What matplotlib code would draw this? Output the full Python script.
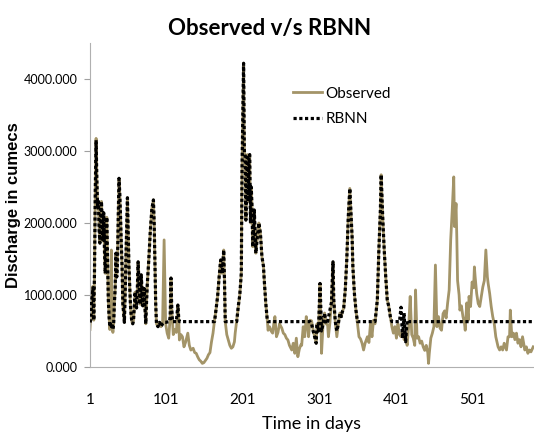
import matplotlib
matplotlib.use('Agg')
import matplotlib.pyplot as plt

# observed discharge (day, cumecs)
obs_days = [1, 2, 3, 5, 6, 7, 8, 9, 10, 11, 12, 13, 14, 15, 16, 17, 18, 19, 20,
            21, 22, 23, 24, 25, 26, 27, 28, 29, 30, 31, 32, 33, 34, 35, 36, 37, 38,
            39, 40, 41, 42, 43, 44, 45, 46, 47, 48, 49, 50, 51, 52, 53, 54, 55, 56,
            57, 58, 59, 60, 61, 62, 63, 64, 65, 66, 67, 68, 69, 70, 71, 72, 73, 74,
            75, 76, 78, 80, 82, 84, 85, 86, 87, 88, 90, 92, 94, 96, 98, 100,
            102, 104, 106, 107, 108, 110, 112, 114, 116, 117, 118, 120, 122, 124,
            126, 129, 131, 133, 136, 138, 140, 142, 144, 146, 148, 150, 152, 154,
            156, 158, 160, 162, 164, 166, 168, 170, 172, 174, 176, 177, 178, 180,
            182, 184, 186, 188, 190, 191, 193, 195, 197, 199, 200, 202, 203, 204,
            205, 206, 207, 208, 209, 210, 211, 212, 213, 214, 216, 218, 220, 222,
            224, 226, 228, 229, 231, 233, 234, 236, 238, 240, 242, 243, 245, 247,
            249, 252, 254, 256, 258, 260, 262, 265, 267, 269, 271, 273, 275, 277,
            278, 280, 282, 284, 286, 287, 289, 291, 293, 295, 297, 298, 300, 302,
            304, 306, 308, 310, 312, 313, 315, 317, 319, 320, 322, 324, 326, 328,
            330, 331, 333, 335, 337, 339, 341, 343, 344, 345, 347, 349, 351, 353,
            355, 357, 359, 361, 364, 366, 368, 370, 372, 374, 377, 379, 381, 382,
            384, 386, 388, 390, 392, 394, 396, 398, 400, 402, 404, 406, 408, 410,
            412, 414, 416, 418, 420, 422, 424, 426, 427, 429, 431, 433, 435, 437,
            439, 441, 443, 444, 445, 447, 449, 451, 453, 455, 457, 459, 461, 463,
            465, 467, 469, 471, 473, 475, 477, 478, 480, 481, 482, 484, 485, 487,
            489, 491, 492, 494, 496, 497, 499, 501, 503, 504, 505, 507, 509, 511,
            513, 515, 517, 519, 521, 522, 524, 526, 528, 530, 532, 535, 537, 539,
            541, 543, 546, 548, 550, 551, 553, 555, 557, 559, 561, 563, 565, 567,
            570, 572, 574, 576, 578, 581]
observed = [520, 700, 1100, 1120, 650, 1400, 2500, 3175, 2600, 2200, 2300, 1900, 1720,
            2100, 2300, 2000, 1750, 2140, 1600, 1300, 1800, 2080, 1500, 930, 700, 520,
            900, 1625, 600, 480, 610, 900, 1100, 1580, 1250, 1450, 2100, 2620, 2400,
            2080, 1700, 1390, 880, 750, 620, 1000, 1500, 1900, 2350, 1900, 1390, 1100,
            850, 700, 620, 600, 650, 850, 1040, 900, 820, 1100, 1460, 1200, 920, 870,
            1280, 1100, 850, 1000, 1090, 820, 600, 900, 1150, 1500, 1900, 2200, 2320,
            2000, 1400, 880, 600, 560, 620, 560, 600, 1765, 600,
            470, 400, 700, 1235, 800, 450, 520, 480, 860, 700, 375, 450, 420, 280,
            340, 470, 300, 235, 260, 200, 190, 140, 100, 80, 50, 60, 90, 120,
            170, 200, 350, 470, 650, 800, 980, 1250, 1486, 1300, 1625, 1200, 630, 450,
            375, 300, 260, 280, 350, 470, 650, 840, 1000, 1300, 2780, 4218, 3000, 2920,
            2040, 2600, 2950, 2300, 2900, 2950, 2000, 2500, 2230, 1670, 2180, 1580, 1800, 2000,
            1860, 1530, 1400, 1210, 890, 650, 510, 560, 500, 470, 640, 700, 420, 480,
            600, 540, 470, 450, 400, 375, 300, 236, 330, 190, 400, 143, 250, 310,
            300, 560, 420, 700, 560, 420, 650, 640, 510, 420, 330, 600, 500, 1160,
            190, 600, 750, 600, 580, 420, 620, 900, 1460, 930, 620, 420, 600, 750,
            700, 760, 820, 1070, 1486, 2090, 2480, 2040, 1800, 1390, 1020, 790, 600, 420,
            390, 330, 236, 330, 420, 340, 600, 420, 650, 600, 930, 1625, 2180, 2670,
            2090, 1625, 1250, 930, 840, 700, 560, 470, 560, 400, 600, 450, 420, 500,
            380, 450, 300, 560, 980, 450, 400, 300, 1070, 400, 420, 330, 360, 280,
            230, 300, 200, 50, 190, 400, 470, 560, 1416, 560, 700, 540, 510, 740,
            780, 680, 890, 1070, 1765, 2180, 2640, 1950, 2270, 1800, 1200, 1000, 790, 850,
            700, 610, 510, 890, 650, 980, 840, 1180, 1100, 1390, 1250, 1020, 880, 840,
            980, 1110, 1200, 1625, 1250, 1160, 1020, 840, 700, 600, 420, 280, 236, 280,
            236, 330, 236, 420, 420, 790, 420, 470, 380, 470, 330, 380, 280, 420,
            236, 280, 190, 236, 210, 280]

# RBNN model output (day, cumecs)
rbnn_days = [1, 2, 3, 5, 6, 7, 8, 9, 10, 11, 12, 13, 14, 15, 16, 17, 18, 19, 20,
             21, 22, 23, 24, 25, 26, 27, 28, 29, 30, 31, 32, 33, 34, 35, 36, 37, 38,
             39, 40, 41, 42, 43, 44, 45, 46, 47, 48, 49, 50, 51, 52, 53, 54, 55, 56,
             57, 58, 59, 60, 61, 62, 63, 64, 65, 66, 67, 68, 69, 70, 71, 72, 73, 74,
             75, 76, 78, 80, 82, 84, 85, 86, 87, 88, 90, 92, 94, 96, 98, 100,
             105, 106, 107, 108, 109, 114, 116, 117, 118, 164, 166, 168, 170, 172,
             174, 176, 177, 178, 193, 195, 197, 199, 200, 202, 203, 204, 205, 206,
             207, 208, 209, 210, 211, 212, 213, 214, 216, 218, 220, 222, 224, 226,
             228, 229, 231, 233, 234, 289, 291, 293, 295, 297, 298, 300, 302, 304,
             306, 308, 310, 312, 317, 319, 320, 322, 324, 326, 328, 330, 331, 333,
             335, 337, 339, 341, 343, 344, 345, 347, 349, 351, 374, 377, 379, 381,
             382, 384, 386, 388, 390, 392, 394, 396, 406, 408, 410, 412, 414, 416,
             418, 582]
rbnn = [620, 650, 900, 1100, 650, 1400, 2500, 3150, 2600, 2200, 2300, 1900, 1720,
        2100, 2300, 2000, 1750, 2140, 1600, 1300, 1800, 2080, 1500, 930, 700, 560,
        620, 560, 600, 520, 610, 900, 1100, 1580, 1250, 1450, 2100, 2620, 2400,
        2080, 1700, 1390, 880, 750, 620, 1000, 1500, 1900, 2350, 1900, 1390, 1100,
        850, 700, 620, 600, 650, 850, 1040, 900, 820, 1100, 1460, 1200, 920, 870,
        1280, 1100, 850, 1000, 1090, 820, 600, 900, 1150, 1500, 1900, 2200, 2320,
        2000, 1400, 880, 600, 560, 620, 560, 600, 620, 620,
        630, 700, 1235, 800, 630, 630, 860, 700, 630, 630, 800, 980, 1250, 1486,
        1300, 1625, 1200, 630, 630, 840, 1000, 1300, 2780, 4218, 3000, 2920, 2040, 2600,
        2950, 2300, 2900, 2950, 2000, 2500, 2230, 1670, 2180, 1580, 1800, 2000, 1860, 1530,
        1400, 1210, 890, 650, 630, 630, 600, 500, 420, 330, 600, 500, 1160, 500,
        600, 750, 600, 630, 900, 1460, 930, 630, 500, 600, 750, 700, 760, 820,
        1070, 1486, 2090, 2480, 2040, 1800, 1390, 1020, 790, 630, 630, 930, 1625, 2180,
        2670, 2090, 1625, 1250, 930, 840, 700, 630, 630, 830, 400, 750, 350, 650,
        630, 630]

x_ticks = [1, 101, 201, 301, 401, 501]
y_ticks = [0, 1000, 2000, 3000, 4000]

fig = plt.figure(figsize=(5.34, 4.34), dpi=100)
ax = fig.add_axes([0.1685, 0.1544, 0.8315, 0.7466])

ax.plot(obs_days, observed, color='#a39468', lw=2, label='Observed', zorder=2)
ax.plot(rbnn_days, rbnn, color='black', lw=2.3, linestyle=(0, (1, 0.8)),
        label='RBNN', zorder=3)

ax.set_xlim(1, 582)
ax.set_ylim(0, 4500)
ax.set_xticks(x_ticks)
ax.set_xticklabels([str(t) for t in x_ticks], fontsize=11, family='Lato')
ax.set_yticks(y_ticks)
ax.set_yticklabels(['%.3f' % t for t in y_ticks], fontsize=9, family='Lato')
ax.tick_params(axis='x', length=0, pad=19)
ax.tick_params(axis='y', length=4, color='#a0a0a0', pad=5)

for s in ['top', 'right']:
    ax.spines[s].set_visible(False)
ax.spines['left'].set_color('#b0b0b0')
ax.spines['bottom'].set_color('#b0b0b0')

ax.set_xlabel('Time in days', fontsize=13, family='Lato', labelpad=6)
ax.set_ylabel('Discharge in cumecs', fontsize=12, fontweight='bold',
              family='Liberation Sans')
ax.yaxis.set_label_coords(-0.155, 0.5)
fig.text(0.505, 0.935, 'Observed v/s RBNN', ha='center', va='center',
         fontsize=16, fontweight='bold', family='Lato')

fig.legend(loc='upper left', bbox_to_anchor=(0.535, 0.818), frameon=False,
           prop={'family': 'Lato', 'size': 11}, handlelength=1.9,
           handletextpad=0.2, labelspacing=0.75, borderpad=0)

fig.savefig('out.png', dpi=100)
